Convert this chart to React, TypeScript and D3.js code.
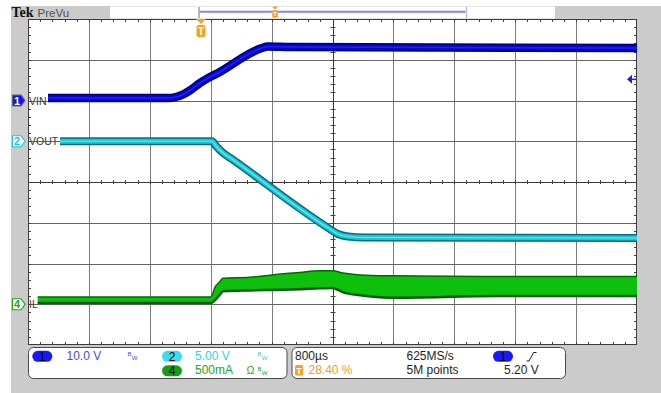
import React from 'react';
import * as d3 from 'd3';

const W = 661;
const H = 393;

// Horizontal: 800 µs/div, 10 divisions, trigger at 28.40 % of the record
const TIME_PER_DIV = 800;
const TRIGGER_PCT = 0.284;
const T_START = -TRIGGER_PCT * 10 * TIME_PER_DIV;
const T_END = T_START + 10 * TIME_PER_DIV;

// Vertical settings (units per division, ground position in divisions)
const CH1_SCALE = 10;
const CH1_POS = 2;
const CH2_SCALE = 5;
const CH2_POS = 1;
const CH4_SCALE = 0.5;
const CH4_POS = -3;
const TRIG_LEVEL = 5.2;

// Ch1 VIN (V) vs time (µs from trigger)
const vinTime = [-2009, -433, -328, -223, -118, -13, 92, 198, 802, 881, 1170, 5728];
const vinVolts = [0.6, 0.6, 0.86, 1.6, 2.82, 4.3, 5.5, 6.5, 12.88, 13.25, 13.13, 12.88];

// Ch2 VOUT (V)
const voutTime = [-1852, 145, 198, 276, 407, 1695, 1800, 1931, 2155, 5728];
const voutVolts = [0.0, 0.0, -0.58, -1.32, -2.18, -10.77, -11.38, -11.69, -11.81, -11.87];

// Ch4 IL (A): upper and lower envelope of the ripple band
const ilTime = [-2145, 130, 185, 250, 290, 640, 930, 1300, 1560, 1720, 1890, 2090, 2480, 3900, 5728];
const ilUpper = [0.09, 0.09, 0.21, 0.28, 0.32, 0.33, 0.36, 0.39, 0.41, 0.41, 0.38, 0.36, 0.35, 0.34, 0.34];
const ilLower = [0.015, 0.015, 0.05, 0.12, 0.16, 0.17, 0.175, 0.185, 0.195, 0.2, 0.14, 0.11, 0.08, 0.1, 0.1];

// Readout text
const ch1Readout = '10.0 V';
const ch2Readout = '5.00 V';
const ch4Readout = '500mA';
const timebaseReadout = '800µs';
const triggerPosReadout = '28.40 %';
const sampleRateReadout = '625MS/s';
const recordLengthReadout = '5M points';
const triggerLevelReadout = '5.20 V';
const channelLabels = ['VIN', 'VOUT', 'IL'];

// Graticule box
const GX0 = 28;
const GX1 = 637;
const GY0 = 19;
const GY1 = 345;

const FONT = "'Liberation Sans', Arial, sans-serif";
const GRAY = '#cbcbcb';
const ORANGE = '#f5a21c';

const x = d3.scaleLinear().domain([T_START, T_END]).range([GX0, GX1]);
const yDiv = d3.scaleLinear().domain([-4, 4]).range([GY1, GY0]);
const yCh = (scale: number, pos: number) => (v: number) => yDiv(v / scale + pos);
const y1 = yCh(CH1_SCALE, CH1_POS);
const y2 = yCh(CH2_SCALE, CH2_POS);
const y4 = yCh(CH4_SCALE, CH4_POS);

const zip = (t: number[], v: number[]) => t.map((tt, i) => [tt, v[i]] as [number, number]);

function Graticule() {
  const vLines = d3.range(1, 10).map((i) => x(T_START + i * TIME_PER_DIV));
  const hLines = d3.range(-3, 4).map((d) => yDiv(d));
  const xMinor = d3.range(1, 50).map((i) => x(T_START + (i * TIME_PER_DIV) / 5));
  const yMinor = d3.range(1, 40).map((i) => yDiv(-4 + i / 5));
  const cx = x(T_START + 5 * TIME_PER_DIV);
  const cy = yDiv(0);
  const r = (v: number) => Math.round(v) + 0.5;
  return (
    <g>
      <rect x={GX0} y={GY0} width={GX1 - GX0} height={GY1 - GY0} fill="#ffffff" />
      {vLines.map((vx, i) => (
        <line key={'v' + i} x1={r(vx)} x2={r(vx)} y1={GY0} y2={GY1} stroke={i === 4 ? '#3a3a3a' : '#7c7c7c'} strokeWidth={1} />
      ))}
      {hLines.map((hy, i) => (
        <line key={'h' + i} x1={GX0} x2={GX1} y1={r(hy)} y2={r(hy)} stroke={i === 3 ? '#3a3a3a' : '#666666'} strokeWidth={1} />
      ))}
      {xMinor.map((mx, i) => (
        <g key={'xm' + i} stroke="#404040" strokeWidth={1}>
          <line x1={r(mx)} x2={r(mx)} y1={GY0} y2={GY0 + 3} />
          <line x1={r(mx)} x2={r(mx)} y1={GY1 - 3} y2={GY1} />
          <line x1={r(mx)} x2={r(mx)} y1={cy - 2} y2={cy + 2} />
        </g>
      ))}
      {yMinor.map((my, i) => (
        <g key={'ym' + i} stroke="#404040" strokeWidth={1}>
          <line x1={GX0} x2={GX0 + 3} y1={r(my)} y2={r(my)} />
          <line x1={GX1 - 3} x2={GX1} y1={r(my)} y2={r(my)} />
          <line x1={cx - 2} x2={cx + 3} y1={r(my)} y2={r(my)} />
        </g>
      ))}
      <rect x={GX0 + 0.5} y={GY0 + 0.5} width={GX1 - GX0 - 1} height={GY1 - GY0 - 1} fill="none" stroke="#3c3c3c" strokeWidth={1} />
    </g>
  );
}

function Traces() {
  const vinLine = d3
    .line<[number, number]>()
    .x((d) => x(d[0]))
    .y((d) => y1(d[1]))
    .curve(d3.curveMonotoneX)(zip(vinTime, vinVolts)) as string;
  const voutLine = d3
    .line<[number, number]>()
    .x((d) => x(d[0]))
    .y((d) => y2(d[1]))
    .curve(d3.curveMonotoneX)(zip(voutTime, voutVolts)) as string;
  const ilPts = ilTime.map((t, i) => ({ t, hi: ilUpper[i], lo: ilLower[i] }));
  const ilArea = d3
    .area<{ t: number; hi: number; lo: number }>()
    .x((d) => x(d.t))
    .y0((d) => y4(d.lo))
    .y1((d) => y4(d.hi))
    .curve(d3.curveMonotoneX)(ilPts) as string;
  const ilTop = d3
    .line<{ t: number; hi: number; lo: number }>()
    .x((d) => x(d.t))
    .y((d) => y4(d.hi))
    .curve(d3.curveMonotoneX)(ilPts) as string;
  const ilBottom = d3
    .line<{ t: number; hi: number; lo: number }>()
    .x((d) => x(d.t))
    .y((d) => y4(d.lo))
    .curve(d3.curveMonotoneX)(ilPts) as string;
  return (
    <g clipPath="url(#grat)">
      <path d={ilArea} fill="#0cc00c" />
      <path d={ilTop} fill="none" stroke="#006a00" strokeWidth={1.5} />
      <path d={ilBottom} fill="none" stroke="#005a00" strokeWidth={2.5} />
      <path d={voutLine} fill="none" stroke="#0a6c78" strokeWidth={8} />
      <path d={voutLine} fill="none" stroke="#1ec6d6" strokeWidth={5} />
      <path d={voutLine} fill="none" stroke="#6ee6f0" strokeWidth={1.2} />
      <path d={vinLine} fill="none" stroke="#00006e" strokeWidth={8.5} />
      <path d={vinLine} fill="none" stroke="#0606d2" strokeWidth={5.5} />
      <path d={vinLine} fill="none" stroke="#2020ff" strokeWidth={1.5} />
    </g>
  );
}

function ChannelTag({ yc, n, label, fill, stroke, text }: { yc: number; n: string; label: string; fill: string; stroke: string; text: string }) {
  const pts = [
    [12.5, yc - 5.5],
    [21, yc - 5.5],
    [25, yc],
    [21, yc + 5.5],
    [12.5, yc + 5.5],
  ];
  return (
    <g>
      <polygon points={pts.map((p) => p.join(',')).join(' ')} fill={fill} stroke={stroke} strokeWidth={1.2} />
      <text x={17} y={yc + 4} textAnchor="middle" fontFamily={FONT} fontSize={11} fontWeight="bold" fill={text}>
        {n}
      </text>
      <text x={29} y={yc + 4} fontFamily={FONT} fontSize={10.5} fill="#383838">
        {label}
      </text>
    </g>
  );
}

function TriggerPin({ cx, top, scale }: { cx: number; top: number; scale: number }) {
  const s = scale;
  return (
    <g>
      <polygon points={`${cx - 5 * s},${top} ${cx + 5 * s},${top} ${cx},${top + 5 * s}`} fill={ORANGE} />
      <rect x={cx - 4.5 * s} y={top + 6 * s} width={9 * s} height={12 * s} rx={2 * s} fill={ORANGE} />
      <text x={cx} y={top + 16 * s} textAnchor="middle" fontFamily={FONT} fontSize={10 * s} fontWeight="bold" fill="#ffffff">
        T
      </text>
    </g>
  );
}

// Bandwidth-limit glyph: a small "B" with a lowered "W" beside it
function Bw({ x0, y0, color }: { x0: number; y0: number; color: string }) {
  return (
    <text x={x0} y={y0 - 3.5} fontFamily={FONT} fontSize={6} fill={color}>
      B
      <tspan dx={0.3} dy={4}>W</tspan>
    </text>
  );
}

function Pill({ cx, cy, fill, n }: { cx: number; cy: number; fill: string; n: string }) {
  return (
    <g>
      <rect x={cx - 10} y={cy - 5.5} width={20} height={11} rx={5.5} fill={fill} />
      <text x={cx} y={cy + 4.3} textAnchor="middle" fontFamily={FONT} fontSize={12} fill="#0a0a0a">
        {n}
      </text>
    </g>
  );
}

export default function App() {
  const trigX = x(0);
  const trigY = y1(TRIG_LEVEL);
  const row1 = 359.5;
  const row2 = 374;
  return (
    <svg width={W} height={H} style={{ position: 'absolute', left: 0, top: 0, display: 'block' }}>
      <defs>
        <clipPath id="grat">
          <rect x={GX0} y={GY0} width={GX1 - GX0} height={GY1 - GY0} />
        </clipPath>
      </defs>
      <rect x={0} y={0} width={W} height={H} fill="#ffffff" />
      <rect x={11} y={6} width={W - 11} height={H - 6} fill={GRAY} />

      {/* header */}
      <text x={11.5} y={17} fontFamily="'Liberation Serif', serif" fontWeight="bold" fontSize={14} fill="#111">
        Tek
      </text>
      <text x={37.5} y={17} fontFamily={FONT} fontSize={11.5} fill="#505050">
        PreVu
      </text>
      <rect x={110} y={6.5} width={445} height={12} fill="#ffffff" />
      <line x1={199} x2={199} y1={7} y2={18} stroke="#a0a0a0" strokeWidth={1.5} />
      <line x1={466.5} x2={466.5} y1={7} y2={18} stroke="#c0c0c0" strokeWidth={1.5} />
      <line x1={199.5} x2={465.5} y1={11.7} y2={11.7} stroke="#8484ee" strokeWidth={2} />
      <TriggerPin cx={199.5 + (465.5 - 199.5) * TRIGGER_PCT} top={6.5} scale={0.62} />

      <Graticule />
      <Traces />

      {/* trigger position marker */}
      <TriggerPin cx={trigX} top={GY0} scale={1} />

      {/* trigger level marker */}
      <polygon points={`${GX1 - 10},${trigY} ${GX1 - 5},${trigY - 4.5} ${GX1 - 5},${trigY + 4.5}`} fill="#1e1ef0" />
      <line x1={GX1 - 6} x2={GX1 - 1} y1={trigY} y2={trigY} stroke="#1e1ef0" strokeWidth={1.5} />

      {/* channel ground markers */}
      <ChannelTag yc={y1(0)} n="1" label={channelLabels[0]} fill="#1212ee" stroke="#6a6a6a" text="#ffffff" />
      <ChannelTag yc={y2(0)} n="2" label={channelLabels[1]} fill="#ffffff" stroke="#22c4d4" text="#22c4d4" />
      <ChannelTag yc={y4(0)} n="4" label={channelLabels[2]} fill="#ffffff" stroke="#24a024" text="#24a024" />

      {/* readout panels */}
      <rect x={28.5} y={347.5} width={258.5} height={31} rx={5} fill="#ffffff" stroke="#4a4a4a" strokeWidth={1} />
      <rect x={292} y={347.5} width={273.5} height={31} rx={5} fill="#ffffff" stroke="#4a4a4a" strokeWidth={1} />

      <Pill cx={42.3} cy={356.3} fill="#1818ff" n="1" />
      <text x={66.5} y={row1} fontFamily={FONT} fontSize={12} fill="#4b4be6">{ch1Readout}</text>
      <Bw x0={127.5} y0={row1} color="#4b4be6" />

      <Pill cx={172} cy={356.3} fill="#3cdcec" n="2" />
      <text x={195} y={row1} fontFamily={FONT} fontSize={12} fill="#2ed2e2">{ch2Readout}</text>
      <Bw x0={257.5} y0={row1} color="#2ed2e2" />

      <Pill cx={172} cy={370.8} fill="#12a012" n="4" />
      <text x={195} y={row2} fontFamily={FONT} fontSize={12} fill="#22a422">{ch4Readout}</text>
      <text x={246.5} y={row2} fontFamily={FONT} fontSize={10.5} fill="#22a422">Ω</text>
      <Bw x0={257.5} y0={row2} color="#22a422" />

      <text x={295} y={row1} fontFamily={FONT} fontSize={12} fill="#1e1e1e">{timebaseReadout}</text>
      <rect x={295} y={365} width={8} height={10.5} rx={1.5} fill={ORANGE} />
      <text x={299} y={373.8} textAnchor="middle" fontFamily={FONT} fontSize={9} fontWeight="bold" fill="#ffffff">T</text>
      <text x={308.5} y={row2} fontFamily={FONT} fontSize={12} fill={ORANGE}>{triggerPosReadout}</text>

      <text x={406.5} y={row1} fontFamily={FONT} fontSize={12} fill="#1e1e1e">{sampleRateReadout}</text>
      <text x={406.5} y={row2} fontFamily={FONT} fontSize={12} fill="#1e1e1e">{recordLengthReadout}</text>

      <Pill cx={503} cy={356.3} fill="#1818ff" n="1" />
      <path d="M526.5,361 L529,361 L533.5,352.5 L536.5,352.5" fill="none" stroke="#1e1e1e" strokeWidth={1} />
      <text x={504} y={row2} fontFamily={FONT} fontSize={12} fill="#1e1e1e">{triggerLevelReadout}</text>
    </svg>
  );
}
